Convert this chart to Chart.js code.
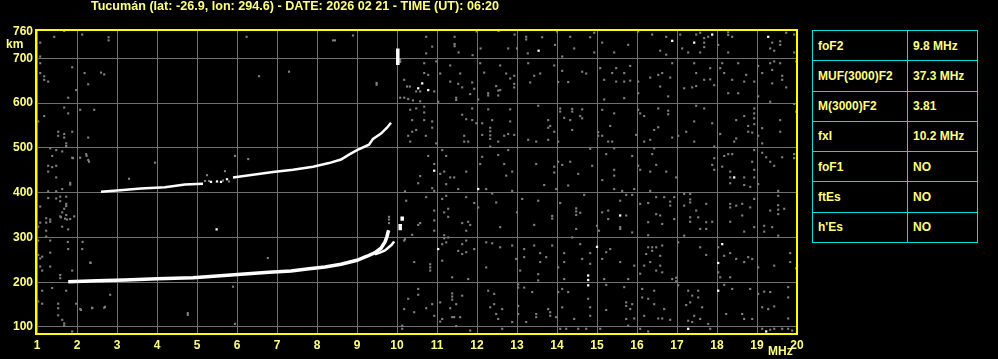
<!DOCTYPE html>
<html>
<head>
<meta charset="utf-8">
<script src="https://cdn.jsdelivr.net/npm/chart.js@4.4.1/dist/chart.umd.min.js"></script>
<style>
  html,body{margin:0;padding:0;background:#000;}
  #wrap{position:relative;width:998px;height:359px;overflow:hidden;background:#000;}
  #c{position:absolute;left:0;top:0;}
  #tbl{position:absolute;left:812px;top:30px;width:166px;height:213px;background:#00e0e0;
       display:grid;grid-template-columns:94px 69px;grid-template-rows:repeat(7,1fr);gap:1px;padding:1px;box-sizing:border-box;}
  #tbl div{background:#000;color:#ffff80;font:bold 12px "Liberation Sans",Arial,sans-serif;display:flex;align-items:center;padding-left:5px;}
</style>
</head>
<body>
<div id="wrap">
<canvas id="c" width="998" height="359"></canvas>
<div id="tbl"></div>
</div>
<script>
// ---- Title and labels ----
const titleText = "Tucumán (lat: -26.9, lon: 294.6) - DATE: 2026 02 21 - TIME (UT): 06:20";
const xTicks = [1,2,3,4,5,6,7,8,9,10,11,12,13,14,15,16,17,18,19,20];
const yTicks = [100,200,300,400,500,600,700,760];
const xUnit = "MHz";
const yUnit = "km";

// ---- Parameter table ----
const paramNames  = ["foF2","MUF(3000)F2","M(3000)F2","fxI","foF1","ftEs","h'Es"];
const paramValues = ["9.8 MHz","37.3 MHz","3.81","10.2 MHz","NO","NO","NO"];

// ---- Echo traces (frequency MHz, virtual height km) ----
const oTraceFreq = [1.78,2.5,3.2,4.0,4.9,5.5,6.1,6.8,7.35,7.8,8.2,8.6,9.0,9.25,9.45,9.6,9.7,9.75,9.79];
const oTraceH    = [201,203,205,208,210,214,218,222,225,230,234,240,249,258,266,276,290,302,316];
const xTraceFreq = [9.45,9.57,9.7,9.78,9.86,9.93];
const xTraceH    = [262,266,271,277,283,291];
const upperFreq  = [2.6,3.0,3.6,4.2,4.7,5.15,5.45,5.9,6.4,6.9,7.4,7.9,8.3,8.6,8.8,9.0,9.3,9.4,9.6,9.75,9.85];
const upperH     = [402,405,409,412,418,420,null,434,440,446,451,458,466,474,485,495,507,520,532,545,556];
const spikeFreq  = [10.02,10.02,null,10.08,10.08,null,10.13,10.13];
const spikeH     = [685,722,null,316,330,null,337,347];

// ---- Bright isolated echoes ----
const brightDots = [[10.53,633],[10.63,644],[10.78,629],[10.93,449],[13.54,717],[16.88,739],[17.43,735],[17.88,753],[19.28,748],
  [18.43,434],[15.58,349],[18.13,285],[18.03,243],[18.03,181],[17.28,96],[19.23,90],[12.03,408],[11.03,274],[15.0,279],
  [14.78,215],[14.78,205],[14.78,193],[5.49,318],[5.35,424],[5.5,425],[5.6,424],[5.75,430]];

// ---- Weak (grey) echoes ----
const weakDots = [
 [1.43,748],[1.68,761],[1.08,735],[1.08,704],[2.13,753],[2.79,747],[2.79,740],[1.08,689],[1.08,667],[1.18,660],[1.18,652],[1.28,648],[1.88,680],[2.19,667],[2.68,664],[2.28,642],[1.98,629],[1.78,612],[1.68,590],[1.78,577],[2.08,585],[2.43,585],[1.03,559],[1.18,571],[1.53,536],[1.53,527],[1.68,531],[1.68,523],[1.88,536],[1.73,510],[1.73,504],[2.28,523],[1.33,499],[1.48,495],[1.63,492],[1.38,482],[1.88,478],[2.08,478],[2.23,486],[2.28,473],[1.28,460],[1.38,457],[1.48,460],[1.28,447],[1.48,434],[1.83,422],[1.83,418],[1.63,408],[1.48,403],[1.28,403],[1.58,391],[1.73,391],[1.28,388],[1.48,387],[1.58,381],[1.73,375],[1.73,370],[1.08,369],[1.68,364],[1.63,356],[1.58,347],[1.73,350],[1.83,341],[1.93,347],[1.23,343],[1.33,340],[1.33,335],[1.23,333],[1.08,333],[1.03,324],[1.63,324],[1.78,318],[1.23,315],[1.23,302],[1.33,293],[1.03,293],[1.78,274],[2.13,274],[1.33,266],[1.03,261],[1.13,257],[1.08,253],[2.33,244],[1.08,235],[1.33,235],[1.13,226],[1.88,226],[1.58,216],[1.58,209],[1.38,187],[1.13,181],[1.73,181],[2.83,172],[1.03,157],[1.13,152],[1.53,152],[1.53,142],[1.98,152],[2.68,143],[2.38,143],[2.08,140],[1.53,126],[1.63,116],[1.68,108],[1.68,103],[1.88,90],
 [2.1,138],[2.38,142],[2.7,145],[4.77,131],[4.77,127],[5.95,107],[6.24,748],[8.9,751],[8.4,740],[8.45,740],[2.15,764],[9.1,765],[9.49,645],[9.49,641],[1.9,477],[2.24,482],[2.3,469],[3.95,467],[3.3,431],[5.95,482],[6.28,475],[5.25,439],[5.7,448],[10.2,403],[1.77,290],[2.14,290],[2.34,243],[6.77,254],[5.9,190],[10.2,296],[1.6,345],[1.7,342],[1.75,340],[5.2,426],[5.3,426],[5.65,427],[5.8,425],[6.55,660],[7.3,670],[2.6,668],[9.8,332],[9.8,340],[9.8,346],
 [10.73,748],[11.44,748],[11.99,760],[12.54,761],[12.94,753],[13.23,748],[13.23,742],[13.63,747],[14.0,760],[14.33,748],[14.83,747],[14.93,757],[10.88,726],[11.44,732],[11.44,727],[10.73,711],[11.54,713],[11.89,707],[12.09,722],[12.78,722],[13.0,722],[13.27,711],[13.95,730],[14.13,704],[14.43,722],[14.93,713],[10.08,697],[10.08,692],[10.68,689],[10.98,693],[11.33,684],[12.08,689],[12.58,684],[13.28,689],[13.93,684],[14.13,672],[14.63,670],[14.73,666],[10.18,652],[10.68,667],[10.78,663],[11.08,666],[11.58,666],[12.18,668],[12.73,666],[12.83,655],[12.93,661],[13.43,661],[13.58,666],[13.33,646],[14.03,647],[14.28,647],[10.25,637],[10.32,637],[10.48,626],[10.58,626],[10.93,626],[10.08,612],[10.18,612],[10.28,609],[10.4,606],[10.58,604],[11.03,603],[11.33,648],[11.53,643],[11.63,635],[11.88,646],[11.93,632],[11.48,612],[11.48,607],[11.83,620],[12.03,608],[12.28,622],[12.28,617],[12.48,638],[12.53,628],[12.58,629],[12.53,617],[12.93,643],[12.93,635],[10.68,592],[10.68,579],[10.48,588],[10.33,585],[10.38,562],[10.68,562],[10.88,559],[10.88,545],[10.48,540],[10.28,527],[10.38,536],[10.72,527],[10.98,510],[10.33,514],[11.63,574],[11.73,564],[11.88,588],[11.88,562],[11.98,555],[11.68,527],[11.68,514],[11.78,514],[12.13,555],[12.13,529],[12.28,586],[12.33,545],[12.33,537],[12.33,528],[12.33,520],[12.38,562],[12.53,514],[12.68,527],[12.78,531],[12.83,559],[12.83,586],[12.93,529],[13.28,518],[13.48,514],[13.78,562],[13.78,545],[13.78,518],[13.83,549],[13.93,536],[13.53,594],[14.08,588],[14.08,581],[14.38,587],[14.38,581],[14.18,567],[14.33,562],[14.63,586],[14.58,571],[14.63,566],[14.38,540],[14.03,514],[15.03,535],[15.03,527],[10.78,482],[10.93,464],[10.58,437],[11.13,495],[11.23,482],[11.18,447],[11.08,442],[11.33,434],[11.43,434],[11.73,447],[12.13,480],[12.08,464],[12.33,503],[12.53,484],[12.78,495],[12.68,464],[12.73,438],[12.88,447],[13.48,464],[13.93,458],[14.03,469],[14.13,462],[14.33,469],[14.53,442],[14.88,460],[14.83,498],[13.93,445],
 [10.53,421],[10.88,410],[10.93,404],[11.23,419],[11.53,408],[12.23,408],[12.88,404],[13.68,417],[13.98,408],[14.28,416],[10.23,382],[10.73,390],[11.13,386],[11.23,393],[11.73,390],[11.93,377],[12.03,367],[12.38,398],[12.48,378],[13.13,386],[13.53,382],[14.08,377],[14.68,395],[14.48,365],[14.48,358],[14.48,350],[10.93,360],[11.28,364],[11.28,346],[11.18,356],[10.93,338],[10.93,315],[10.53,328],[10.58,332],[10.38,306],[10.18,293],[11.63,332],[11.78,335],[11.83,328],[11.73,315],[11.18,305],[11.18,298],[11.28,300],[12.58,323],[13.0,356],[13.43,328],[13.88,348],[13.88,342],[14.48,319],[14.58,355],[14.38,300],[15.0,326],[15.05,315],[11.13,285],[11.23,289],[11.63,285],[11.73,293],[11.13,248],[10.43,245],[10.83,240],[10.83,233],[10.83,226],[11.53,270],[11.63,263],[11.73,267],[11.93,274],[11.38,211],[11.78,207],[12.23,233],[12.23,289],[12.38,287],[12.58,278],[12.88,282],[12.98,252],[13.18,274],[13.18,256],[13.43,282],[13.58,265],[13.58,245],[13.08,226],[13.53,218],[13.53,204],[13.88,282],[13.73,256],[14.03,233],[14.18,265],[14.18,245],[14.18,207],[14.63,252],[14.83,265],[14.83,241],[14.58,285],[10.18,140],[10.28,163],[10.53,185],[10.53,172],[10.43,133],[10.88,151],[10.73,142],[10.93,125],[11.08,155],[11.13,118],[11.08,112],[11.38,175],[11.38,168],[11.38,161],[11.33,142],[11.48,151],[11.63,170],[11.43,122],[11.38,122],[11.58,122],[11.48,102],[11.83,92],[12.28,181],[12.43,174],[12.43,151],[12.33,144],[12.48,129],[12.63,140],[12.53,118],[12.63,96],[12.88,111],[13.03,195],[13.03,188],[13.18,188],[13.03,147],[13.03,129],[13.38,178],[13.23,111],[13.48,129],[13.48,122],[13.78,140],[13.83,133],[13.83,125],[13.98,122],[14.03,178],[14.13,185],[14.28,178],[14.13,144],[14.43,118],[14.83,144],[14.83,125],[14.78,163],[14.23,96],[14.53,96],[14.73,96],[10.13,103],[10.13,96],[14.08,96],
 [15.13,735],[15.43,713],[15.78,730],[16.03,760],[16.38,753],[16.73,748],[16.58,717],[16.73,708],[17.08,753],[17.13,722],[17.28,713],[17.48,753],[17.58,757],[17.68,745],[17.68,735],[17.68,725],[17.78,748],[17.58,713],[18.03,730],[18.28,758],[18.28,752],[18.28,713],[18.38,748],[19.38,735],[19.58,738],[19.58,730],[19.73,757],[19.93,753],[19.33,722],[19.43,717],[19.93,713],[15.08,678],[15.18,652],[15.38,667],[15.48,678],[15.68,667],[15.68,648],[15.83,683],[15.83,650],[15.48,648],[15.18,608],[15.68,611],[16.03,648],[16.03,622],[16.33,657],[16.53,663],[16.63,667],[16.83,657],[16.88,689],[16.58,637],[16.78,615],[17.18,633],[17.38,635],[17.48,638],[17.43,689],[17.48,667],[17.83,678],[17.83,653],[17.68,652],[17.93,640],[18.08,678],[18.18,667],[18.13,689],[18.53,689],[18.38,652],[18.73,663],[18.68,648],[18.93,648],[18.28,622],[18.53,622],[19.03,683],[19.13,667],[19.33,689],[19.43,693],[19.58,689],[19.38,674],[19.63,661],[19.63,652],[19.38,644],[19.73,635],[19.03,615],[19.33,603],[19.98,693],[15.13,585],[15.43,577],[15.33,549],[15.13,527],[15.28,514],[15.38,514],[16.03,585],[16.08,577],[16.18,571],[16.53,588],[16.78,583],[16.78,575],[16.43,540],[16.53,546],[15.98,529],[16.33,518],[16.18,514],[16.88,523],[17.03,527],[17.48,594],[17.68,588],[17.43,559],[17.23,536],[17.43,514],[17.88,555],[17.93,503],[18.08,531],[18.48,562],[18.68,571],[18.78,549],[18.93,588],[18.93,577],[18.93,566],[18.93,553],[18.78,536],[18.88,534],[18.48,521],[18.43,514],[19.03,527],[19.13,544],[19.13,510],[19.58,562],[19.58,536],[19.93,598],[19.98,581],[15.23,486],[15.43,499],[15.88,482],[15.43,451],[15.43,438],[15.13,428],[16.03,460],[16.08,451],[16.38,486],[16.43,499],[16.48,462],[16.33,447],[16.73,447],[16.98,434],[17.93,477],[17.88,462],[17.93,451],[18.18,482],[18.28,486],[18.38,486],[18.13,458],[18.33,447],[18.33,434],[18.68,434],[18.88,469],[18.93,451],[18.93,434],[19.23,479],[19.33,469],[19.43,460],[19.63,479],[19.93,486],[19.93,477],[18.93,495],[19.13,489],
 [15.43,408],[15.63,404],[15.93,408],[16.33,404],[17.33,397],[18.33,421],[18.68,417],[18.83,413],[19.03,419],[19.53,404],[15.73,395],[15.88,395],[15.58,382],[15.13,356],[15.28,360],[15.73,349],[15.28,341],[15.58,323],[15.58,319],[15.88,311],[16.08,375],[16.28,377],[16.48,390],[16.68,390],[16.83,380],[16.83,371],[16.93,390],[16.48,352],[16.58,349],[16.28,334],[16.63,330],[16.93,341],[16.28,305],[17.18,397],[17.33,385],[17.33,378],[17.18,371],[17.48,360],[17.33,345],[17.53,345],[17.33,335],[17.73,375],[17.73,334],[17.88,335],[17.58,319],[17.73,319],[17.18,304],[18.33,375],[18.33,367],[18.48,371],[18.63,375],[18.63,349],[18.33,335],[18.68,313],[18.93,323],[18.83,367],[18.93,386],[19.33,360],[19.53,372],[19.53,362],[19.53,352],[19.68,364],[19.18,326],[19.38,323],[19.18,313],[19.53,304],[19.53,393],[15.23,267],[15.33,274],[15.13,252],[15.58,245],[15.93,237],[15.18,207],[15.78,207],[16.28,278],[16.38,278],[16.38,270],[16.23,263],[16.48,278],[16.63,282],[16.58,259],[16.33,245],[16.18,237],[16.58,237],[16.48,226],[16.63,222],[16.08,219],[16.88,207],[16.98,210],[16.98,202],[17.03,289],[17.58,278],[17.73,261],[18.03,278],[18.18,259],[18.33,265],[18.48,252],[18.78,256],[18.68,245],[18.88,252],[19.03,233],[19.43,237],[19.83,265],[19.83,245],[19.98,231],[18.03,222],[18.08,211],[18.33,211],[15.23,194],[15.68,189],[15.23,138],[15.73,155],[15.73,147],[15.83,140],[15.88,151],[15.93,119],[15.73,118],[15.78,103],[16.13,185],[16.13,166],[16.28,163],[16.43,181],[16.43,151],[16.68,140],[16.18,125],[16.53,119],[16.63,119],[16.83,116],[16.08,96],[16.28,90],[17.03,193],[17.28,181],[17.38,170],[17.53,181],[17.53,166],[17.23,149],[17.33,155],[17.63,144],[17.43,125],[17.28,114],[17.38,111],[17.78,107],[17.83,96],[17.58,118],[18.18,194],[18.38,185],[18.23,129],[18.63,129],[18.68,118],[18.88,118],[18.83,185],[19.03,174],[19.18,179],[19.33,178],[19.13,144],[19.28,140],[19.43,146],[19.78,189],[19.78,166],[19.78,119],[19.33,94],[19.43,96],[19.63,96],[19.78,96],[19.88,92],[19.13,96],[15.08,96]
];

// ---- Build table ----
const tbl = document.getElementById('tbl');
paramNames.forEach((n,i)=>{
  const a=document.createElement('div'); a.textContent=n; tbl.appendChild(a);
  const b=document.createElement('div'); b.textContent=paramValues[i]; tbl.appendChild(b);
});

const YEL = '#ffff80';
const GRID = '#707070';
const FONT = '"Liberation Sans", Arial, sans-serif';
const pts = (F,H)=>F.map((f,i)=>({x:f, y:(f===null||H[i]===null)?null:H[i]}));

const decor = {
  id:'decor',
  afterDraw(chart){
    const ctx=chart.ctx, a=chart.chartArea;
    ctx.save();
    ctx.strokeStyle='#ffff00'; ctx.lineWidth=2;
    ctx.strokeRect(a.left-1, a.top, a.right-a.left+1, a.bottom-a.top+1);
    ctx.fillStyle=YEL;
    ctx.font='bold 12.6px '+FONT;
    ctx.textAlign='center'; ctx.textBaseline='middle';
    ctx.fillText(titleText, 295, 7);
    ctx.font='bold 12px '+FONT;
    ctx.textAlign='left';
    ctx.fillText(yUnit, 6, 45);
    ctx.fillText(xUnit, 768, 352);
    ctx.restore();
  }
};

new Chart(document.getElementById('c'), {
  type:'scatter',
  data:{ datasets:[
    {data:pts(oTraceFreq,oTraceH), showLine:true, borderColor:'#fff', borderWidth:3.5, pointRadius:0, spanGaps:false},
    {data:pts(xTraceFreq,xTraceH), showLine:true, borderColor:'#fff', borderWidth:2.5, pointRadius:0, spanGaps:false},
    {data:pts(upperFreq,upperH), showLine:true, borderColor:'#fff', borderWidth:2.5, pointRadius:0, spanGaps:false},
    {data:pts(spikeFreq,spikeH), showLine:true, borderColor:'#fff', borderWidth:3.5, pointRadius:0, spanGaps:false},
    {data:brightDots.map(p=>({x:p[0],y:p[1]})), pointStyle:'rect', pointRadius:1.6, borderWidth:0, backgroundColor:'#fff'},
    {data:weakDots.map(p=>({x:p[0],y:p[1]})), pointStyle:'rect', pointRadius:1.5, borderWidth:0, backgroundColor:'#808080'}
  ]},
  options:{
    responsive:false, animation:false, events:[],
    layout:{padding:{top:30,right:201,left:0,bottom:0}},
    plugins:{legend:{display:false}, tooltip:{enabled:false}},
    scales:{
      x:{type:'linear', min:1, max:20,
         afterBuildTicks:s=>{s.ticks=xTicks.map(v=>({value:v}));},
         afterFit:s=>{s.height=26;},
         grid:{color:GRID, lineWidth:1, drawTicks:false},
         border:{display:false},
         ticks:{color:YEL, font:{family:FONT, size:12, weight:'bold'}, padding:5, maxRotation:0, autoSkip:false}},
      y:{type:'linear', min:86.6, max:763.2,
         afterBuildTicks:s=>{s.ticks=yTicks.map(v=>({value:v}));},
         afterFit:s=>{s.width=37;},
         grid:{color:c=>(c.tick && c.tick.value===760)?'rgba(0,0,0,0)':GRID, lineWidth:1, drawTicks:false},
         border:{display:false},
         ticks:{color:YEL, font:{family:FONT, size:12, weight:'bold'}, padding:4, autoSkip:false}}
    }
  },
  plugins:[decor]
});
</script>
</body>
</html>
